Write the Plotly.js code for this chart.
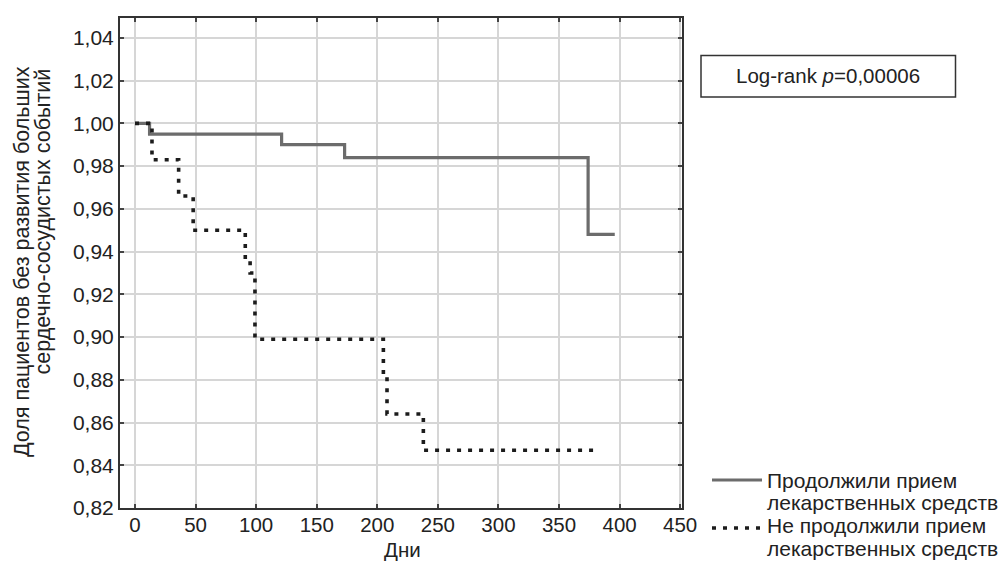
<!DOCTYPE html>
<html><head><meta charset="utf-8">
<script src="https://cdn.plot.ly/plotly-3.0.1.min.js"></script>
<style>body{margin:0;background:#fff}#c{width:1007px;height:561px}</style>
</head><body><div id="c"></div>
<script>
const contDays = [0, 12, 121, 173, 374, 396];
const contSurv = [1.0, 0.995, 0.990, 0.984, 0.948, 0.948];
const stopDays = [0, 14, 36, 48, 91, 95, 99, 205, 208, 238, 383];
const stopSurv = [1.0, 0.983, 0.966, 0.950, 0.936, 0.930, 0.899, 0.882, 0.864, 0.847, 0.847];
const contLabel = ['Продолжили прием', 'лекарственных средств'];
const stopLabel = ['Не продолжили прием', 'лекарственных средств'];
const xTicks = [0, 50, 100, 150, 200, 250, 300, 350, 400, 450];
const yTicks = [0.82, 0.84, 0.86, 0.88, 0.90, 0.92, 0.94, 0.96, 0.98, 1.00, 1.02, 1.04];
const xTitle = 'Дни';
const yTitleLines = ['Доля пациентов без развития больших', 'сердечно-сосудистых событий'];
const pText = 'Log-rank <i>p</i>=0,00006';

const F = 'Liberation Sans, Arial, sans-serif';
const TXT = '#222';
const solidColor = '#6c6c6c', dotColor = '#1c1c1c';
const dotDash = '4px,7px';

const traces = [
  {x: contDays, y: contSurv, mode: 'lines', line: {shape: 'hv', color: solidColor, width: 3.2}, showlegend: false},
  {x: stopDays, y: stopSurv, mode: 'lines', line: {shape: 'hv', color: dotColor, width: 3.6, dash: dotDash}, showlegend: false}
];

// paper coordinate helpers (plot area: 120..682 px, 18..508 px)
const px = v => (v - 120) / 562;
const py = v => (508 - v) / 490;

const ann = [];
ann.push({text: xTitle, xref: 'paper', yref: 'paper', x: px(402), y: py(549), xanchor: 'center', yanchor: 'middle',
          showarrow: false, font: {family: F, size: 20.5, color: TXT}});
ann.push({text: yTitleLines[0], xref: 'paper', yref: 'paper', x: px(22), y: py(262), xanchor: 'center', yanchor: 'middle',
          textangle: -90, showarrow: false, font: {family: F, size: 21.5, color: TXT}});
ann.push({text: yTitleLines[1], xref: 'paper', yref: 'paper', x: px(42.5), y: py(222), xanchor: 'center', yanchor: 'middle',
          textangle: -90, showarrow: false, font: {family: F, size: 21.5, color: TXT}});
ann.push({text: pText, xref: 'paper', yref: 'paper', x: px(828), y: py(76), xanchor: 'center', yanchor: 'middle',
          showarrow: false, font: {family: F, size: 20.5, color: TXT}});
const legRows = [[contLabel[0], 480], [contLabel[1], 502.5], [stopLabel[0], 525.5], [stopLabel[1], 548]];
legRows.forEach(r => ann.push({text: r[0], xref: 'paper', yref: 'paper', x: px(765), y: py(r[1]), xanchor: 'left', yanchor: 'middle',
          showarrow: false, font: {family: F, size: 21, color: TXT}}));

const shapes = [
  {type: 'rect', xref: 'paper', yref: 'paper', x0: px(701), x1: px(955.5), y0: py(97), y1: py(55.5),
   line: {color: '#333', width: 1.5}, fillcolor: '#fff'},
  {type: 'line', xref: 'paper', yref: 'paper', x0: px(712), x1: px(762), y0: py(480), y1: py(480),
   line: {color: solidColor, width: 3.2}},
  {type: 'line', xref: 'paper', yref: 'paper', x0: px(712), x1: px(762), y0: py(528), y1: py(528),
   line: {color: dotColor, width: 3.6, dash: dotDash}}
];

const axisCommon = {
  showgrid: true, gridcolor: '#d6d6d6', gridwidth: 2, zeroline: false,
  showline: true, linecolor: '#333', linewidth: 2, mirror: 'ticks',
  ticks: 'inside', ticklen: 4, tickwidth: 2, tickcolor: '#444'
};
const layout = {
  width: 1007, height: 561,
  margin: {l: 120, r: 325, t: 18, b: 53, autoexpand: false},
  paper_bgcolor: '#fff', plot_bgcolor: '#fff',
  separators: ', ',
  font: {family: F, size: 20, color: TXT},
  showlegend: false,
  xaxis: Object.assign({range: [-12.4, 451.5], tickvals: xTicks, ticktext: xTicks.map(String), automargin: false,
                        tickfont: {family: F, size: 20.5, color: TXT}, ticklabelstandoff: -3}, axisCommon),
  yaxis: Object.assign({range: [0.82, 1.0493], tickvals: yTicks, tickformat: '.2f', automargin: false,
                        tickfont: {family: F, size: 21, color: TXT}}, axisCommon),
  annotations: ann,
  shapes: shapes
};
Plotly.newPlot('c', traces, layout, {displayModeBar: false, staticPlot: true});
</script></body></html>
